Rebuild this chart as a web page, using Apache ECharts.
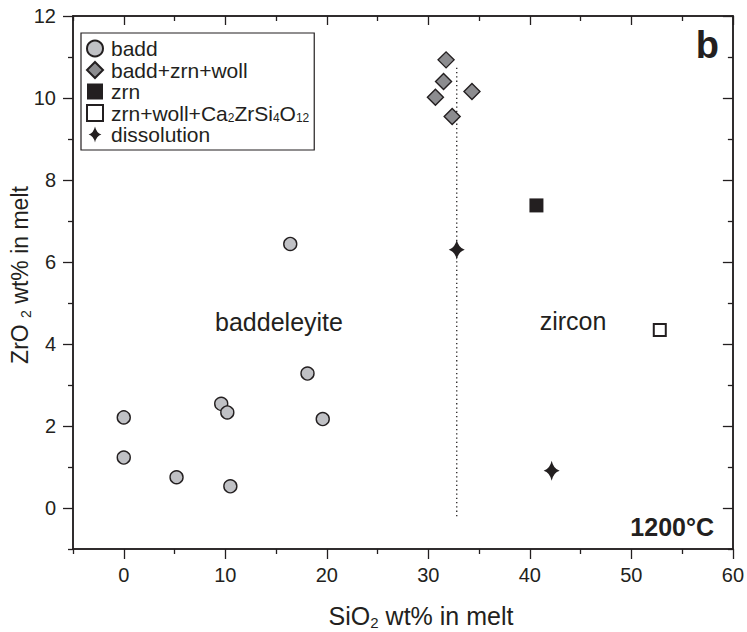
<!DOCTYPE html>
<html>
<head>
<meta charset="utf-8">
<script src="https://cdn.jsdelivr.net/npm/echarts@6/dist/echarts.min.js"></script>
<style>
html,body{margin:0;padding:0;background:#fff;}
#chart{width:747px;height:632px;}
</style>
</head>
<body>
<div id="chart"></div>
<script>
// ---- data ----
const baddX = [0, 0, 5.2, 10.5, 9.6, 10.2, 18.1, 19.6, 16.4];
const baddY = [2.21, 1.23, 0.75, 0.53, 2.54, 2.33, 3.28, 2.17, 6.44];
const mixX = [31.75, 31.5, 30.7, 34.3, 32.35];
const mixY = [10.93, 10.4, 10.02, 10.16, 9.55];
const zrnX = [40.65];
const zrnY = [7.38];
const zrnWollX = [52.8];
const zrnWollY = [4.34];
const dissX = [32.8, 42.15];
const dissY = [6.3, 0.91];
const boundaryX = [32.8, 32.8];
const boundaryY = [-0.2, 10.75];
const xMajorTicks = [0, 10, 20, 30, 40, 50, 60];
const xMinorTicks = [-5, 5, 15, 25, 35, 45, 55];
const yMajorTicks = [0, 2, 4, 6, 8, 10, 12];
const yMinorTicks = [-1, 1, 3, 5, 7, 9, 11];
const seriesNames = ['badd', 'badd+zrn+woll', 'zrn', 'zrn+woll+Ca2ZrSi4O12', 'dissolution'];

const zip = (a, b) => a.map((v, i) => [v, b[i]]);
const INK = '#231f20';
const FONT = '"Liberation Sans", Arial, Helvetica, sans-serif';
const STAR = 'path://M0,-10 Q1.8,-1.8 8,0 Q1.8,1.8 0,10 Q-1.8,1.8 -8,0 Q-1.8,-1.8 0,-10 Z';

function xAxisDef(pos, ticks, len, inside, labels) {
  return {
    type: 'value', position: pos, min: -5, max: 60,
    axisLine: { show: true, onZero: false, lineStyle: { color: INK, width: 1.5 } },
    axisTick: { show: true, inside: inside, length: len, customValues: ticks, lineStyle: { color: INK, width: 1.3 } },
    axisLabel: labels ? { show: true, customValues: ticks, margin: 16, color: INK, fontSize: 20, fontFamily: FONT } : { show: false },
    splitLine: { show: false }
  };
}
function yAxisDef(pos, ticks, len, inside, labels) {
  return {
    type: 'value', position: pos, min: -1, max: 12,
    axisLine: { show: true, onZero: false, lineStyle: { color: INK, width: 1.5 } },
    axisTick: { show: true, inside: inside, length: len, customValues: ticks, lineStyle: { color: INK, width: 1.3 } },
    axisLabel: labels ? { show: true, customValues: ticks, margin: 17, color: INK, fontSize: 20, fontFamily: FONT } : { show: false },
    splitLine: { show: false }
  };
}

const chart = echarts.init(document.getElementById('chart'), null, { renderer: 'svg' });

const option = {
  backgroundColor: '#fff',
  animation: false,
  grid: { left: 73, right: 14, top: 16, bottom: 83, containLabel: false },
  xAxis: [
    xAxisDef('bottom', xMajorTicks, 10, false, true),
    xAxisDef('bottom', xMinorTicks, 5, false, false),
    xAxisDef('top', xMajorTicks, 9, true, false),
    xAxisDef('top', xMinorTicks, 5, true, false)
  ],
  yAxis: [
    yAxisDef('left', yMajorTicks, 10, false, true),
    yAxisDef('left', yMinorTicks, 5, false, false),
    yAxisDef('right', yMajorTicks, 10, true, false),
    yAxisDef('right', yMinorTicks, 5, true, false)
  ],
  legend: {
    data: seriesNames,
    orient: 'vertical',
    left: 81, top: 33,
    padding: [5, 5, 5, 5],
    itemGap: 0.5,
    itemWidth: 16, itemHeight: 16,
    borderColor: INK, borderWidth: 1.2,
    backgroundColor: '#fff',
    textStyle: {
      color: INK, fontSize: 21, fontFamily: FONT, lineHeight: 20, padding: [0, 0, 0, 3],
      rich: {
        a: { color: INK, fontSize: 21, fontFamily: FONT, lineHeight: 20 },
        s: { color: INK, fontSize: 12, fontFamily: FONT, lineHeight: 20, padding: [9, 0, 0, 0] }
      }
    },
    formatter: function (name) {
      if (name === 'zrn+woll+Ca2ZrSi4O12') {
        return '{a|zrn+woll+Ca}{s|2}{a|ZrSi}{s|4}{a|O}{s|12}';
      }
      return name;
    }
  },
  series: [
    {
      name: 'boundary', type: 'line', data: zip(boundaryX, boundaryY),
      symbol: 'none', silent: true, z: 1,
      lineStyle: { color: INK, width: 1.3, type: [1.3, 3] }
    },
    {
      name: seriesNames[0], type: 'scatter', data: zip(baddX, baddY),
      symbol: 'circle', symbolSize: 13, z: 3,
      itemStyle: { color: '#c0c1c5', borderColor: INK, borderWidth: 1.4, opacity: 1 }
    },
    {
      name: seriesNames[1], type: 'scatter', data: zip(mixX, mixY),
      symbol: 'diamond', symbolSize: 16, z: 3,
      itemStyle: { color: '#8c8c8f', borderColor: INK, borderWidth: 1.4, opacity: 1 }
    },
    {
      name: seriesNames[2], type: 'scatter', data: zip(zrnX, zrnY),
      symbol: 'rect', symbolSize: 14, z: 3,
      itemStyle: { color: INK, borderColor: INK, borderWidth: 0, opacity: 1 }
    },
    {
      name: seriesNames[3], type: 'scatter', data: zip(zrnWollX, zrnWollY),
      symbol: 'rect', symbolSize: 12, z: 3,
      itemStyle: { color: '#ffffff', borderColor: INK, borderWidth: 2, opacity: 1 }
    },
    {
      name: seriesNames[4], type: 'scatter', data: zip(dissX, dissY),
      symbol: STAR, symbolSize: [16, 20], z: 3,
      itemStyle: { color: INK, borderWidth: 0, opacity: 1 }
    }
  ],
  graphic: [
    { type: 'text', right: 747 - 719, top: 26, style: { text: 'b', fill: INK, font: 'bold 38px ' + FONT } },
    { type: 'text', x: 714, y: 527, style: { text: '1200°C', fill: INK, font: 'bold 25px ' + FONT, align: 'right', verticalAlign: 'middle' } },
    { type: 'text', x: 279, y: 322, style: { text: 'baddeleyite', fill: INK, font: '25px ' + FONT, align: 'center', verticalAlign: 'middle' } },
    { type: 'text', x: 573, y: 321, style: { text: 'zircon', fill: INK, font: '25px ' + FONT, align: 'center', verticalAlign: 'middle' } },
    { type: 'text', x: 421, y: 616, style: {
        text: '{a|SiO}{s|2}{a| wt% in melt}', align: 'center', verticalAlign: 'middle',
        rich: {
          a: { fill: INK, fontSize: 25, fontFamily: FONT, lineHeight: 28 },
          s: { fill: INK, fontSize: 15, fontFamily: FONT, lineHeight: 28, padding: [12, 0, 0, 0] }
        }
      } },
    { type: 'text', x: 20, y: 275, rotation: Math.PI / 2, style: {
        text: '{a|ZrO }{s|2}{a| wt% in melt}', align: 'center', verticalAlign: 'middle',
        rich: {
          a: { fill: INK, fontSize: 23, fontFamily: FONT, lineHeight: 26 },
          s: { fill: INK, fontSize: 14, fontFamily: FONT, lineHeight: 26, padding: [11, 0, 0, 0] }
        }
      } }
  ]
};
chart.setOption(option);
</script>
</body>
</html>
